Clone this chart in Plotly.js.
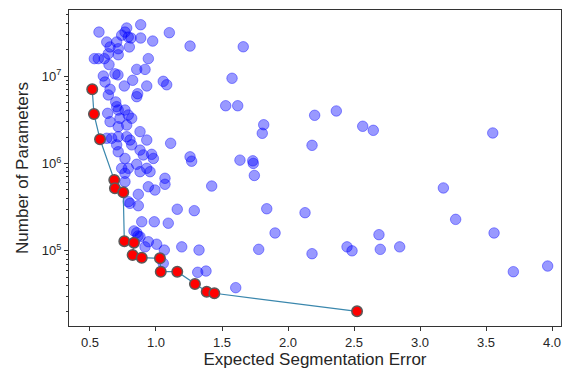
<!DOCTYPE html>
<html>
<head>
<meta charset="utf-8">
<script src="https://cdn.plot.ly/plotly-3.0.1.min.js"></script>
<style>html,body{margin:0;padding:0;background:#fff;}#chart{width:563px;height:371px;}</style>
</head>
<body>
<div id="chart"></div>
<script>
// All evaluated models (blue)
const errAll = [
  0.568, 0.778, 0.765, 0.740, 0.790, 0.884, 0.884, 0.811, 0.975, 1.101,
  1.258, 0.627, 0.702, 0.652, 0.714, 0.798, 0.639, 0.714, 0.533, 0.563,
  0.608, 0.942, 0.644, 0.854, 0.917, 0.601, 0.689, 0.712, 0.823, 0.614,
  0.760, 0.930, 1.055, 1.081, 0.652, 0.861, 0.695, 1.661, 1.576, 1.528,
  1.619, 0.639, 0.854, 0.634, 0.702, 0.714, 0.765, 0.790, 0.816, 0.727,
  0.652, 0.778, 0.714, 0.627, 0.664, 0.714, 0.778, 0.803, 0.879, 0.930,
  1.111, 0.702, 0.816, 0.714, 0.879, 0.904, 0.967, 0.980, 0.765, 0.854,
  1.258, 1.270, 0.740, 0.790, 0.930, 0.955, 0.879, 0.765, 1.068, 1.068,
  0.765, 0.942, 0.992, 0.866, 0.790, 1.636, 1.733, 1.737, 1.745, 1.422,
  1.805, 1.816, 2.202, 2.366, 2.566, 2.646, 3.551, 2.182, 3.177, 1.839,
  2.129, 3.270, 1.902, 2.689, 3.561, 1.778, 2.182, 2.447, 2.485, 2.699,
  2.846, 3.707, 3.967, 0.803, 0.866, 1.161, 1.290, 0.892, 0.987, 1.093,
  0.854, 0.833, 0.864, 0.942, 1.005, 0.917, 1.063, 1.195, 1.326, 1.055,
  1.316, 1.379, 1.604, 0.879
];
const paramsAll = [
  3.18e7, 3.54e7, 3.18e7, 2.93e7, 2.79e7, 3.86e7, 2.72e7, 2.72e7, 2.51e7, 3.13e7,
  2.20e7, 2.45e7, 2.45e7, 2.15e7, 2.05e7, 2.15e7, 1.80e7, 1.75e7, 1.58e7, 1.58e7,
  1.58e7, 1.58e7, 1.35e7, 1.19e7, 1.19e7, 1.00e7, 1.06e7, 1.03e7, 8.93e6, 8.53e6,
  7.69e6, 7.69e6, 8.69e6, 7.94e6, 7.05e6, 6.27e6, 5.05e6, 2.16e7, 9.42e6, 4.57e6,
  4.57e6, 6.07e6, 5.80e6, 3.74e6, 4.46e6, 4.08e6, 4.08e6, 3.58e6, 3.28e6, 3.28e6,
  3.00e6, 2.75e6, 2.63e6, 1.94e6, 1.94e6, 2.02e6, 2.02e6, 1.85e6, 2.31e6, 1.85e6,
  1.70e6, 1.63e6, 1.63e6, 1.36e6, 1.42e6, 1.25e6, 1.27e6, 1.14e6, 1.14e6, 9.77e5,
  1.19e6, 1.06e6, 8.79e5, 8.79e5, 8.79e5, 8.04e5, 8.04e5, 7.71e5, 6.76e5, 5.77e5,
  6.18e5, 5.41e5, 4.96e5, 4.43e5, 3.65e5, 1.09e6, 1.07e6, 1.00e6, 7.28e5, 5.51e5,
  2.21e6, 2.77e6, 3.55e6, 3.98e6, 2.66e6, 2.39e6, 2.23e6, 1.61e6, 5.24e5, 3.03e5,
  2.73e5, 2.29e5, 1.60e5, 1.53e5, 1.60e5, 1.04e5, 9.27e4, 1.11e5, 1.00e5, 1.04e5,
  1.11e5, 5.77e4, 6.70e4, 3.49e5, 3.28e5, 2.99e5, 2.88e5, 2.15e5, 2.15e5, 2.07e5,
  1.61e5, 1.69e5, 1.48e5, 1.27e5, 1.19e5, 1.11e5, 1.02e5, 1.11e5, 1.02e5, 7.19e4,
  5.68e4, 5.87e4, 3.79e4, 1.45e5
];
// Pareto front (red)
const errPareto = [0.517, 0.530, 0.576, 0.684, 0.689, 0.752, 0.760, 0.833, 0.823,
                   0.892, 1.030, 1.036, 1.161, 1.295, 1.384, 1.442, 2.523];
const paramsPareto = [7.05e6, 3.67e6, 1.89e6, 6.46e5, 5.19e5, 4.67e5, 1.29e5, 1.24e5, 8.95e4,
                      8.34e4, 8.21e4, 5.77e4, 5.77e4, 4.17e4, 3.40e4, 3.27e4, 2.03e4];
const xTicks = [0.5, 1.0, 1.5, 2.0, 2.5, 3.0, 3.5, 4.0];
const xTickText = ['0.5', '1.0', '1.5', '2.0', '2.5', '3.0', '3.5', '4.0'];
const yTicks = [1e5, 1e6, 1e7];
const yTickText = ['10<sup>5</sup>', '10<sup>6</sup>', '10<sup>7</sup>'];

const font = 'Liberation Sans, Arial, sans-serif';
const traces = [
  {
    x: errAll, y: paramsAll, type: 'scatter', mode: 'markers',
    marker: {size: 10.5, color: 'rgba(0,0,255,0.4)', line: {color: 'rgba(0,0,255,0.4)', width: 1}},
    hoverinfo: 'skip'
  },
  {
    x: errPareto, y: paramsPareto, type: 'scatter', mode: 'lines+markers',
    line: {color: '#3a87ad', width: 1.2},
    marker: {size: 10.5, color: '#ff0000', line: {color: '#5a5a5a', width: 1.5}},
    hoverinfo: 'skip'
  }
];
const layout = {
  width: 563, height: 371,
  margin: {l: 69, r: 2, t: 10, b: 45, pad: 0},
  paper_bgcolor: '#ffffff', plot_bgcolor: '#ffffff',
  showlegend: false,
  font: {family: font, color: '#262626'},
  xaxis: {
    range: [0.341, 4.068],
    tickvals: xTicks, ticktext: xTickText,
    ticks: 'outside', ticklen: 4, tickwidth: 1, tickcolor: '#333',
    showline: true, mirror: true, linecolor: '#333', linewidth: 1,
    showgrid: false, zeroline: false,
    tickfont: {size: 13, color: '#262626', family: font},
    title: {text: 'Expected Segmentation Error', font: {size: 17, color: '#262626', family: font}, standoff: 4}
  },
  yaxis: {
    type: 'log', range: [4.140, 7.755],
    tickvals: yTicks, ticktext: yTickText,
    ticks: 'outside', ticklen: 4, tickwidth: 1, tickcolor: '#333',
    minor: {tickvals: [2e4, 3e4, 4e4, 5e4, 6e4, 7e4, 8e4, 9e4,
                       2e5, 3e5, 4e5, 5e5, 6e5, 7e5, 8e5, 9e5,
                       2e6, 3e6, 4e6, 5e6, 6e6, 7e6, 8e6, 9e6,
                       2e7, 3e7, 4e7, 5e7],
            ticks: 'outside', ticklen: 2.5, tickcolor: '#333', showgrid: false},
    showline: true, mirror: true, linecolor: '#333', linewidth: 1,
    showgrid: false, zeroline: false,
    tickfont: {size: 13, color: '#262626', family: font},
    title: {text: 'Number of Parameters', font: {size: 17, color: '#262626', family: font}, standoff: 8}
  }
};
Plotly.newPlot('chart', traces, layout, {staticPlot: true, displayModeBar: false});
</script>
</body>
</html>
